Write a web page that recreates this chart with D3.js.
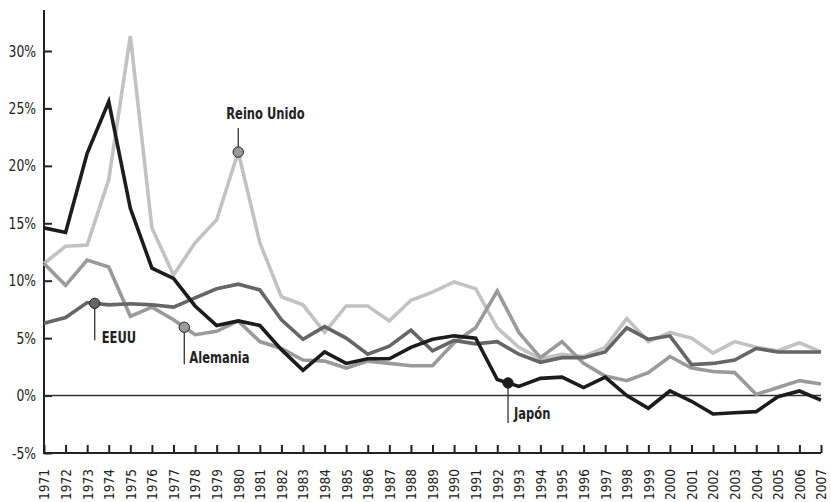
<!DOCTYPE html>
<html>
<head>
<meta charset="utf-8">
<script src="https://cdn.jsdelivr.net/npm/d3@7"></script>
<style>
  html, body { margin: 0; padding: 0; background: #fff; }
  svg { display: block; }
  text { font-family: "DejaVu Sans Condensed", "Liberation Sans Narrow", sans-serif; fill: #222; }
</style>
</head>
<body>
<svg id="chart" width="831" height="502"></svg>
<script>
const years = d3.range(1971, 2008);
const yTicks = [-5, 0, 5, 10, 15, 20, 25, 30];

const japon = [14.6, 14.2, 21.1, 25.6, 16.3, 11.1, 10.2, 7.8, 6.1, 6.5,
               6.1, 4.0, 2.2, 3.8, 2.8, 3.2, 3.2, 4.2, 4.9, 5.2,
               5.0, 1.4, 0.8, 1.5, 1.6, 0.7, 1.6, 0.0, -1.1, 0.4,
               -0.5, -1.6, -1.5, -1.4, -0.1, 0.4, -0.4];
const reinoUnido = [11.5, 13.0, 13.1, 18.8, 31.3, 14.6, 10.5, 13.3, 15.3, 21.2,
                    13.3, 8.6, 7.9, 5.5, 7.8, 7.8, 6.5, 8.3, 9.0, 9.9,
                    9.3, 5.9, 4.2, 3.2, 3.6, 3.4, 4.2, 6.7, 4.7, 5.5,
                    5.0, 3.7, 4.7, 4.2, 3.9, 4.6, 3.8];
const alemania = [11.5, 9.6, 11.8, 11.2, 6.9, 7.7, 6.6, 5.3, 5.6, 6.5,
                  4.7, 4.1, 3.1, 3.0, 2.4, 3.0, 2.8, 2.6, 2.6, 4.6,
                  5.9, 9.1, 5.5, 3.3, 4.7, 2.8, 1.7, 1.3, 2.0, 3.4,
                  2.4, 2.1, 2.0, 0.1, 0.7, 1.3, 1.0];
const eeuu = [6.3, 6.8, 8.1, 7.9, 8.0, 7.9, 7.7, 8.5, 9.3, 9.7,
              9.2, 6.6, 4.9, 6.0, 5.0, 3.6, 4.3, 5.7, 3.9, 4.8,
              4.5, 4.7, 3.6, 2.9, 3.3, 3.3, 3.8, 5.9, 4.9, 5.2,
              2.7, 2.8, 3.1, 4.1, 3.8, 3.8, 3.8];

const seriesNames = ["Reino Unido", "Alemania", "EEUU", "Japón"];
const seriesValues = [reinoUnido, alemania, eeuu, japon];
const seriesColors = ["#c2c2c2", "#9a9a9a", "#666666", "#1c1c1c"];
const markerFills = ["#9a9a9a", "#9a9a9a", "#666666", "#1c1c1c"];
// annotation position along each series (fractional year)
const markerYears = [1980, 1977.5, 1973.35, 1992.5];

const svg = d3.select("#chart");
const x = d3.scaleLinear().domain([1971, 2007]).range([44, 821]);
const y = d3.scaleLinear().domain([-5, 30]).range([453, 51]);

// y axis
const ySx = 0.86;
const yAxis = d3.axisLeft(y).tickValues(yTicks).tickFormat(d => d + "%")
  .tickSizeInner(-8).tickSizeOuter(0);
const gy = svg.append("g").attr("transform", `translate(${x(1971)},0)`).call(yAxis);
gy.select(".domain").remove();
gy.selectAll("line").attr("stroke", "#222").attr("stroke-width", 2);
gy.selectAll("text").style("font-size", "16px").attr("fill", "#222")
  .attr("text-anchor", "end")
  .attr("transform", `scale(${ySx},1)`)
  .attr("x", -8 / ySx);
svg.append("line").attr("x1", x(1971)).attr("x2", x(1971))
  .attr("y1", y(-5) + 1).attr("y2", 10).attr("stroke", "#222").attr("stroke-width", 2);

// x axis
const xAxis = d3.axisBottom(x).tickValues(years).tickFormat(d3.format("d"))
  .tickSizeInner(-8).tickSizeOuter(0);
const gx = svg.append("g").attr("transform", `translate(0,${y(-5)})`).call(xAxis);
gx.select(".domain").remove();
gx.selectAll("line").attr("stroke", "#222").attr("stroke-width", 2);
gx.selectAll("text")
  .style("font-size", "13.5px").attr("fill", "#222")
  .attr("transform", "rotate(-90)")
  .attr("text-anchor", "end")
  .attr("x", -16).attr("y", 0).attr("dy", "0.36em");
svg.append("line").attr("x1", x(1971) - 1).attr("x2", x(2007))
  .attr("y1", y(-5)).attr("y2", y(-5)).attr("stroke", "#222").attr("stroke-width", 2);

// zero line
svg.append("line").attr("x1", x(1971)).attr("x2", x(2007))
  .attr("y1", y(0)).attr("y2", y(0)).attr("stroke", "#333").attr("stroke-width", 1.4);

// lines
const line = d3.line().x((d, i) => x(years[i])).y(d => y(d));
seriesValues.forEach((vals, k) => {
  svg.append("path").datum(vals)
    .attr("d", line)
    .attr("fill", "none")
    .attr("stroke", seriesColors[k])
    .attr("stroke-width", 3.6)
    .attr("stroke-linejoin", "miter");
});

// annotations
function valueAt(vals, yr) {
  const i = Math.floor(yr - 1971);
  const t = yr - 1971 - i;
  if (t === 0) return vals[i];
  return vals[i] * (1 - t) + vals[i + 1] * t;
}
const labelOffsets = [
  { ly: -24, tx: -12, ty: -33 },
  { ly: 37, tx: 5, ty: 36 },
  { ly: 37, tx: 7, ty: 40 },
  { ly: 40, tx: 6, ty: 36 }
];
seriesValues.forEach((vals, k) => {
  const cx = x(markerYears[k]);
  const cy = y(valueAt(vals, markerYears[k]));
  const o = labelOffsets[k];
  svg.append("line").attr("x1", cx).attr("x2", cx)
    .attr("y1", cy).attr("y2", cy + o.ly)
    .attr("stroke", "#333").attr("stroke-width", 1.3);
  svg.append("circle").attr("cx", cx).attr("cy", cy).attr("r", 5.2)
    .attr("fill", markerFills[k]).attr("stroke", "#222").attr("stroke-width", 1);
  svg.append("text")
    .attr("transform", `translate(${cx + o.tx},${cy + o.ty}) scale(0.8,1)`)
    .style("font-size", "16px").style("font-weight", "bold")
    .attr("fill", "#222")
    .text(seriesNames[k]);
});
</script>
</body>
</html>
